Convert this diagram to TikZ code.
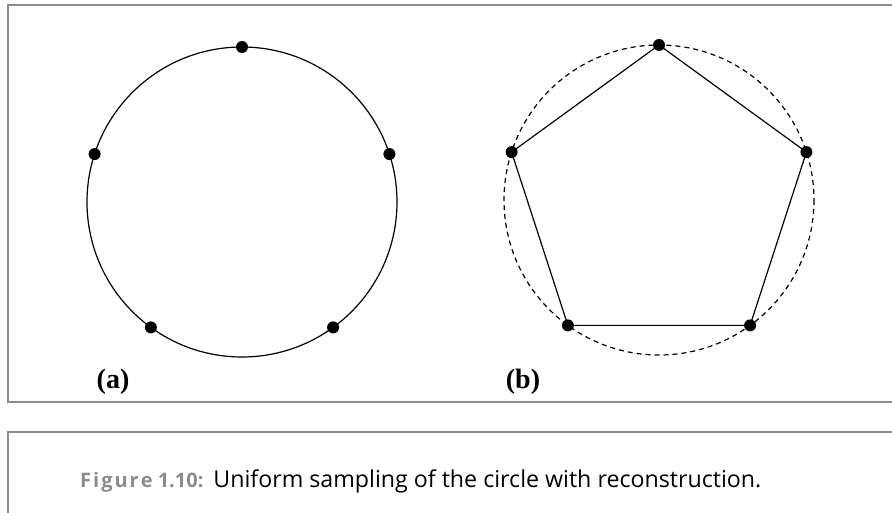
\documentclass[tikz,border=0pt]{standalone}
\usepackage{fontspec}
\usetikzlibrary{calc}
\setmainfont{Liberation Serif}
\newfontfamily\capfont{Open Sans}
\begin{document}
\begin{tikzpicture}[x=1pt,y=-1pt,
  frame/.style={draw=black!45,line width=1.3pt},
  curve/.style={line width=1.2pt},
  dot/.style={circle,fill=black,inner sep=0pt,minimum size=12pt},
  lab/.style={font=\fontsize{28}{32}\selectfont\bfseries,inner sep=0pt}]
\useasboundingbox (0,0) rectangle (892,513);
% frames
\draw[frame] (892,5) -- (8,5) -- (8,402) -- (892,402);
\draw[frame] (892,432) -- (8,432) -- (8,513);
% (a)
\coordinate (ca) at (242,202);
\draw[curve] (ca) circle[radius=155];
\foreach \i/\a in {1/90,2/162,3/234,4/306,5/18}{
  \node[dot] (a\i) at ($(ca)+(\a:155 and -155)$) {};
}
% (b)
\coordinate (cb) at (659,200);
\draw[curve,dash pattern=on 5pt off 4pt] (cb) circle[radius=155];
\foreach \i/\a in {1/90,2/162,3/234,4/306,5/18}{
  \coordinate (b\i) at ($(cb)+(\a:155 and -155)$);
}
\draw[curve] (b1) -- (b2) -- (b3) -- (b4) -- (b5) -- cycle;
\foreach \i in {1,...,5}{ \node[dot] (bd\i) at (b\i) {}; }
\node[lab] (la) at (113,382) {(a)};
\node[lab] (lb) at (523,382) {(b)};
\node[anchor=west,inner sep=0pt,font=\capfont\fontsize{23.2}{27}\selectfont] (cap) at (80,481)
  {{\color{black!45}\bfseries\fontsize{20}{24}\selectfont F\kern2pt i\kern2pt g\kern2pt u\kern2pt r\kern2pt e 1.10:}\hspace{10pt}Uniform sampling of the circle with reconstruction.};
\end{tikzpicture}
\end{document}
